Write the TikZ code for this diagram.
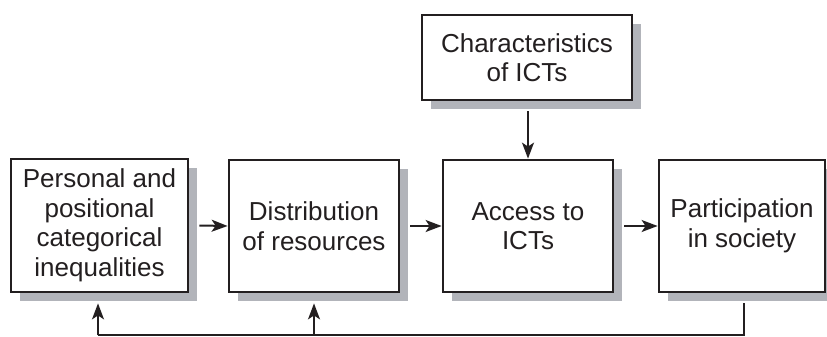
\documentclass[tikz,border=0pt]{standalone}
\usepackage{fontspec}
\setmainfont{Liberation Sans}
\usetikzlibrary{arrows.meta,shadows,positioning}
\definecolor{ink}{RGB}{35,31,32}
\definecolor{shade}{RGB}{178,180,186}
\begin{document}
\begin{tikzpicture}[x=1pt,y=1pt,
  box/.style={draw=ink, line width=2.8pt, fill=white, align=center, inner sep=0pt,
    font=\fontsize{26}{29.5}\selectfont, text=ink,
    general shadow={shadow xshift=9pt, shadow yshift=-9pt, fill=shade}},
  arr/.style={draw=ink, line width=2pt, -{Stealth[length=16pt,width=12pt,inset=4pt]}},
  lin/.style={draw=ink, line width=2pt}]
\useasboundingbox (0,0) rectangle (827,-337);
\node[box, minimum width=177pt, minimum height=133pt] (b1) at (99.5,-225.5) {Personal and\\positional\\categorical\\inequalities};
\node[box, minimum width=170pt, minimum height=132pt] (b2) at (314,-226) {Distribution\\of resources};
\node[box, minimum width=170pt, minimum height=132pt] (b3) at (528,-226) {Access to\\ICTs};
\node[box, minimum width=166pt, minimum height=132pt] (b4) at (742,-226) {Participation\\in society};
\node[box, minimum width=210pt, minimum height=85pt] (top) at (527,-57.5) {Characteristics\\of ICTs};
\draw[arr] ([xshift=10pt]b1.east) -- (b2.west);
\draw[arr] ([xshift=10pt]b2.east) -- (b3.west);
\draw[arr] ([xshift=10pt]b3.east) -- (b4.west);
\draw[arr] ([xshift=1pt,yshift=-10pt]top.south) -- (b3.north);
\coordinate (f4) at ([xshift=2pt,yshift=-10pt]b4.south);
\coordinate (f1) at ([xshift=-1.5pt,yshift=-10pt]b1.south);
\coordinate (f2) at ([yshift=-10pt]b2.south);
\coordinate (c4) at ([yshift=-32pt]f4);
\draw[lin] (f4) -- (c4) -- (c4 -| f1);
\draw[arr] (c4 -| f1) -- (f1);
\draw[arr] (c4 -| f2) -- (f2);
\end{tikzpicture}
\end{document}
